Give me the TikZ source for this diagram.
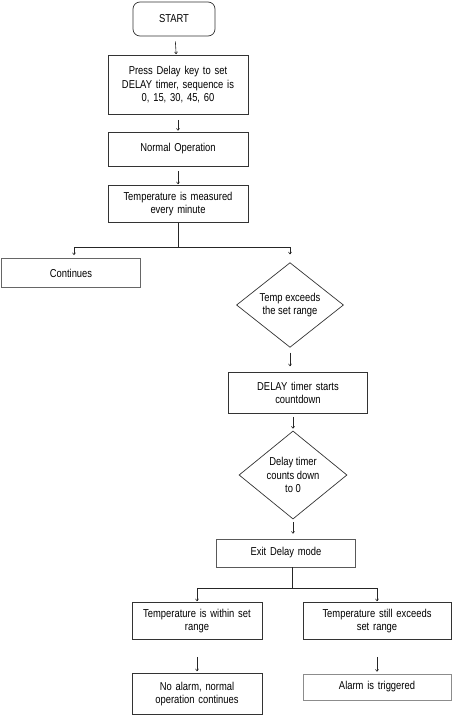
\documentclass[tikz,border=0pt]{standalone}
\usepackage{fontspec}
\setmainfont{Liberation Sans}[FakeStretch=0.82]
\usetikzlibrary{shapes.geometric,arrows.meta}

\begin{document}
\begin{tikzpicture}[x=1bp, y=-1bp,
    every node/.style={font=\fontsize{11.5}{13.5}\selectfont},
    box/.style={draw=black!80, line width=0.7bp, rectangle, align=center,
                inner xsep=2bp, inner ysep=0bp},
    test/.style={draw=black!80, line width=0.7bp, diamond, align=center,
                inner sep=0bp},
    flow/.style={draw=black!85, line width=0.6bp, -{To[length=2.5bp,width=3.5bp]}},
    link/.style={draw=black!85, line width=0.6bp}]

\useasboundingbox (0,0) rectangle (453,715);

\node[box, rounded corners=7bp, minimum width=82bp, minimum height=34bp]
    (start) at (174,19) {START};
\node[box, text width=136bp, minimum height=59bp]
    (setkey) at (178,85) {Press Delay key to set\\DELAY timer, sequence is\\0, 15, 30, 45, 60};
\node[box, text width=136bp, minimum height=34bp]
    (normal) at (178,149) {Normal Operation};
\node[box, text width=136bp, minimum height=37bp]
    (measure) at (178,204) {Temperature is measured\\every minute};
\node[box, draw=black!60, text width=135bp, minimum height=29bp]
    (cont) at (71,273) {Continues};
\node[test, minimum width=107bp, minimum height=84bp]
    (exceed) at (290,305) {Temp exceeds\\the set range};
\node[box, text width=135bp, minimum height=41bp]
    (countdown) at (298,393) {DELAY timer starts\\countdown};
\node[test, minimum width=108bp, minimum height=84bp]
    (zero) at (293,475) {Delay timer\\counts down\\to 0};
\node[box, draw=black!65, text width=135bp, minimum height=28bp]
    (exit) at (286,553) {Exit Delay mode};
\node[box, text width=126bp, minimum height=37bp]
    (within) at (197,621) {Temperature is within set\\range};
\node[box, text width=144bp, minimum height=37bp]
    (still) at (377,621) {Temperature still exceeds\\set range};
\node[box, text width=126bp, minimum height=41bp]
    (noalarm) at (197,694) {No alarm, normal\\operation continues};
\node[box, draw=black!45, text width=144bp, minimum height=26bp]
    (alarm) at (377,687) {Alarm is triggered};

% main line
\draw[flow, shorten <=5bp, shorten >=1bp] (start) -- (setkey);
\draw[flow, shorten <=5bp, shorten >=1bp] (setkey) -- (normal);
\draw[flow, shorten <=5bp, shorten >=1bp] (normal) -- (measure);

% first split
\coordinate (split1) at (178,247);
\draw[link] (measure.south) -- (split1);
\draw[flow, shorten >=3bp] (split1) -| (74,258);
\draw[flow, shorten >=8bp] (split1) -| (exceed.north);

\draw[flow, shorten <=5bp, shorten >=6bp] (exceed.south) -- (exceed.south |- countdown.north);
\draw[flow, shorten <=3bp, shorten >=2bp] (countdown.south -| zero.north) -- (zero.north);
\draw[flow, shorten <=3bp, shorten >=5bp] (zero.south) -- (zero.south |- exit.north);

% second split
\coordinate (split2) at (292,588);
\draw[link] (exit.south -| split2) -- (split2);
\draw[flow, shorten >=1bp] (split2) -| (within.north);
\draw[flow, shorten >=1bp] (split2) -| (still.north);

\draw[flow, shorten <=17bp, shorten >=2bp] (within) -- (noalarm);
\draw[flow, shorten <=17bp, shorten >=2bp] (still.south) -- (alarm.north);

\end{tikzpicture}
\end{document}
